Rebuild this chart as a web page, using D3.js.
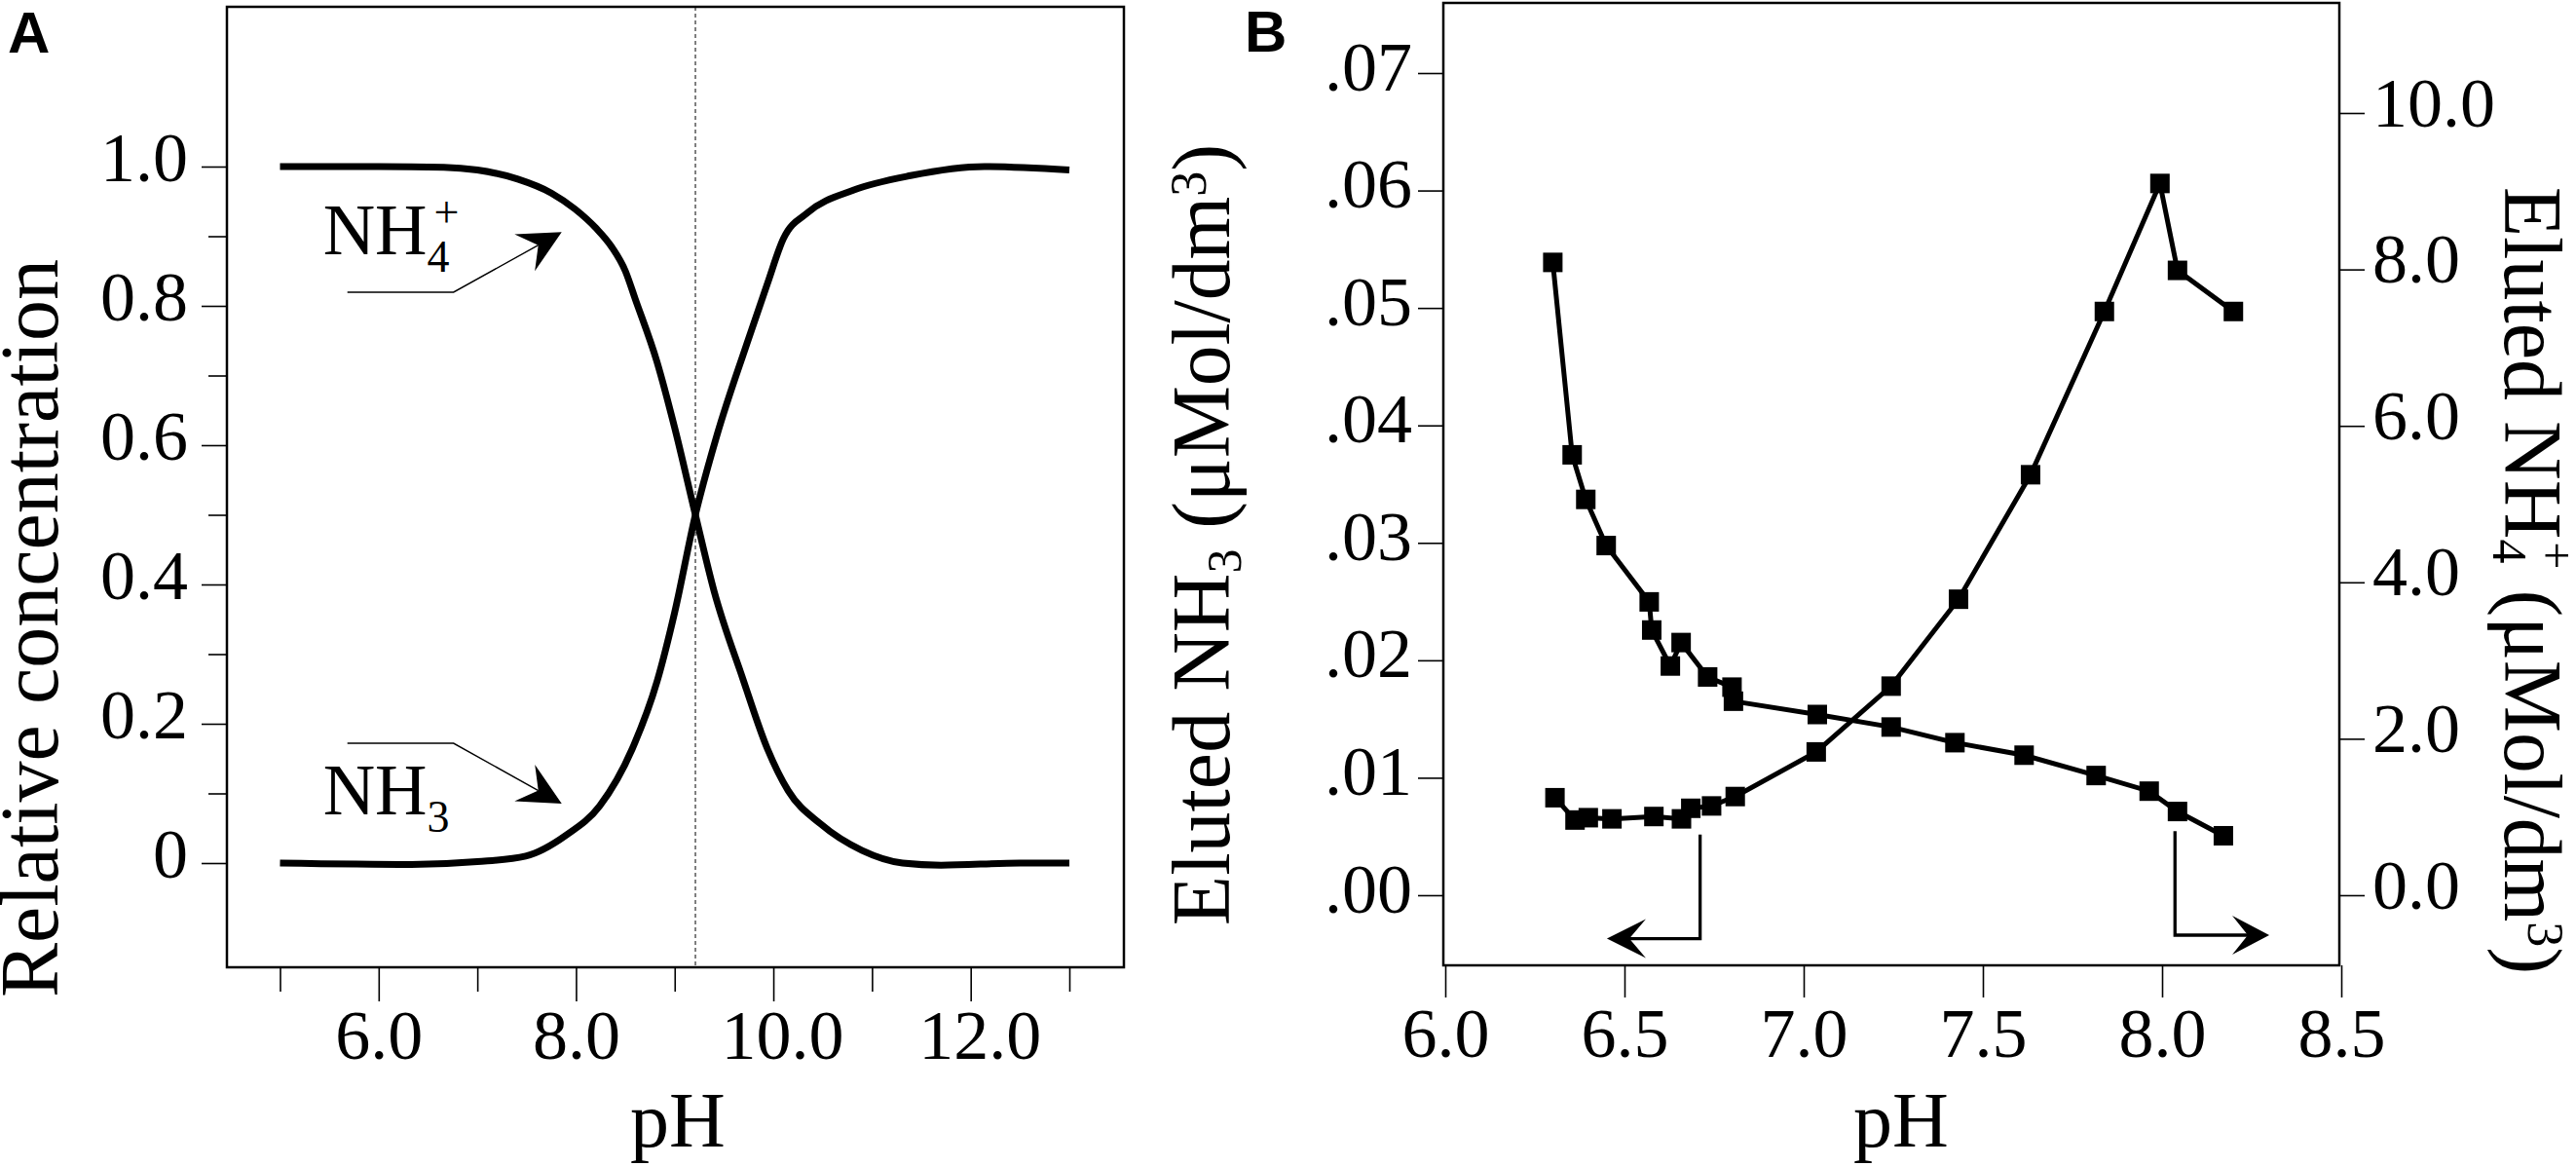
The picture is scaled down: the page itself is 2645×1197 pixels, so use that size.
<!DOCTYPE html>
<html><head><meta charset="utf-8">
<script src="https://cdn.jsdelivr.net/npm/d3@7"></script>
<style>
body{margin:0;background:#fff}
text{font-family:"Liberation Serif","Times New Roman",Times,serif;fill:#000}
</style>
</head><body>
<script>
// ================= DATA =================
// Panel A: relative concentration vs pH
const nh4pH   = [5.0, 6.0, 6.66, 7.0, 7.41, 7.75, 7.99, 8.2, 8.36, 8.5, 8.6, 8.82, 9.0, 9.21, 9.40, 9.69, 9.94, 10.15, 10.48, 10.9, 11.31, 11.7, 12.5, 13.0];
const nh4Frac = [1.0, 1.0, 0.999, 0.995, 0.982, 0.962, 0.939, 0.912, 0.885, 0.85, 0.81, 0.72, 0.625, 0.5, 0.39, 0.265, 0.164, 0.104, 0.056, 0.018, 0.0, -0.003, 0.0, 0.0];
const nh3pH   = [5.0, 6.33, 7.0, 7.49, 7.9, 8.24, 8.57, 8.82, 9.0, 9.21, 9.43, 9.73, 9.94, 10.1, 10.35, 10.81, 11.39, 12.14, 13.0];
const nh3Frac = [0.0, -0.002, 0.002, 0.01, 0.04, 0.082, 0.164, 0.26, 0.36, 0.5, 0.615, 0.745, 0.832, 0.896, 0.934, 0.966, 0.987, 1.0, 0.995];
const pKa = 9.21;

// Panel B: eluted NH3 (left axis) and NH4+ (right axis) vs pH
const bNH3pH  = [6.306, 6.362, 6.399, 6.465, 6.582, 6.659, 6.685, 6.743, 6.809, 7.035, 7.244, 7.432, 7.633, 7.839, 7.994, 8.043, 8.199];
const bNH3    = [0.0083, 0.0064, 0.0066, 0.0065, 0.0067, 0.0065, 0.0074, 0.0076, 0.0084, 0.0122, 0.0178, 0.0252, 0.0358, 0.0497, 0.0606, 0.0532, 0.0497];
const bNH4pH  = [6.300, 6.354, 6.392, 6.449, 6.569, 6.576, 6.628, 6.658, 6.732, 6.800, 6.804, 7.038, 7.244, 7.422, 7.615, 7.816, 7.964, 8.043, 8.171];
const bNH4    = [8.09, 5.63, 5.06, 4.47, 3.75, 3.39, 2.93, 3.23, 2.79, 2.66, 2.48, 2.31, 2.15, 1.95, 1.79, 1.53, 1.33, 1.07, 0.76];

// Tick values / labels
const aXTicks = [5, 6, 7, 8, 9, 10, 11, 12, 13];
const aXLabels = {6: "6.0", 8: "8.0", 10: "10.0", 12: "12.0"};
const aYTicks = d3.range(0, 11).map(i => i / 10);
const aYLabels = {0: "0", 2: "0.2", 4: "0.4", 6: "0.6", 8: "0.8", 10: "1.0"};
const bXTicks = [6.0, 6.5, 7.0, 7.5, 8.0, 8.5];
const bLeftTicks = [0, 0.01, 0.02, 0.03, 0.04, 0.05, 0.06, 0.07];
const bRightTicks = [0, 2, 4, 6, 8, 10];

// Annotation anchor points (data units)
const nh4Arrow = [[5.683, 0.8196], [6.759, 0.8196], [7.855, 0.9059]];
const nh3Arrow = [[5.683, 0.172], [6.759, 0.172], [7.855, 0.0853]];
const nh4LabelPos = [5.436, 0.874];
const nh3LabelPos = [5.436, 0.070];
const leftArrowB  = [[6.711, 0.00517], [6.711, -0.0037], [6.451, -0.0037]];
const rightArrowB = [[8.036, 0.00545], [8.036, -0.0034], [8.299, -0.0034]];

// ================= Times-like advance widths (em) =================
const TW = {'0':.5,'1':.5,'2':.5,'3':.5,'4':.5,'5':.5,'6':.5,'7':.5,'8':.5,'9':.5,'.':.25,
  'p':.5,'H':.722,'N':.722,'R':.667,'e':.444,'l':.278,'a':.444,'t':.278,'i':.278,'v':.5,' ':.25,
  'c':.444,'o':.5,'n':.5,'r':.333,'E':.611,'u':.5,'d':.5,'(':.333,')':.333,'μ':.5,'M':.889,
  '/':.278,'m':.778,'+':.564};
const timesW = s => { let w = 0; for (const c of s) w += (TW[c] ?? 0.5); return w; };

const W = 2645, H = 1197;
const svg = d3.select("body").append("svg").attr("width", W).attr("height", H)
  .style("display", "block");
svg.append("rect").attr("width", W).attr("height", H).attr("fill", "#fff");

function setFS(sel, fs) { return sel.attr("data-fs", fs).attr("font-size", fs); }

function lockWidth(node) {
  const baseFS = +node.getAttribute("data-fs");
  const spans = node.querySelectorAll("tspan");
  const apply = (el, fs) => {
    const t = el.textContent;
    if (!t) return;
    el.setAttribute("textLength", (fs * timesW(t)).toFixed(2));
    el.setAttribute("lengthAdjust", "spacingAndGlyphs");
  };
  if (spans.length) spans.forEach(sp => apply(sp, +(sp.getAttribute("data-fs") || baseFS)));
  else apply(node, baseFS);
}

function arrow(g, pts, o) {
  const [tx, ty] = pts[pts.length - 1];
  const [px, py] = pts[pts.length - 2];
  const L = Math.hypot(tx - px, ty - py);
  const ux = (tx - px) / L, uy = (ty - py) / L, nx = -uy, ny = ux;
  const notch = [tx - o.notch * ux, ty - o.notch * uy];
  g.append("path").attr("d", d3.line()(pts.slice(0, -1).concat([notch])))
    .attr("fill", "none").attr("stroke", "#000").attr("stroke-width", o.w);
  const head = [[tx, ty],
    [tx - o.len * ux + o.half * nx, ty - o.len * uy + o.half * ny],
    notch,
    [tx - o.len * ux - o.half * nx, ty - o.len * uy - o.half * ny]];
  g.append("path").attr("d", d3.line()(head) + "Z").attr("fill", "#000");
}

function styleAxis(g, fs) {
  g.select(".domain").remove();
  g.selectAll(".tick line").attr("stroke", "#000").attr("stroke-width", 1.6);
  const t = g.selectAll(".tick text")
    .attr("font-family", '"Liberation Serif","Times New Roman",Times,serif').attr("fill", "#000");
  setFS(t, fs);
}

// ---------- Panel A ----------
const A = {l: 233, r: 1154, t: 7, b: 993};
const xA = d3.scaleLinear().domain([5, 13]).range([287.5, 1098]);
const yA = d3.scaleLinear().domain([0, 1]).range([886, 171]);
const gA = svg.append("g");

gA.append("line").attr("x1", xA(pKa)).attr("x2", xA(pKa)).attr("y1", A.t).attr("y2", A.b)
  .attr("stroke", "#000").attr("stroke-width", 1).attr("stroke-dasharray", "4,3");

const lineA = d3.line().x(d => xA(d[0])).y(d => yA(d[1])).curve(d3.curveMonotoneX);
gA.append("path").attr("d", lineA(nh4pH.map((p, i) => [p, nh4Frac[i]])))
  .attr("fill", "none").attr("stroke", "#000").attr("stroke-width", 7).attr("stroke-linejoin", "round");
gA.append("path").attr("d", lineA(nh3pH.map((p, i) => [p, nh3Frac[i]])))
  .attr("fill", "none").attr("stroke", "#000").attr("stroke-width", 7).attr("stroke-linejoin", "round");

gA.append("rect").attr("x", A.l).attr("y", A.t).attr("width", A.r - A.l).attr("height", A.b - A.t)
  .attr("fill", "none").attr("stroke", "#000").attr("stroke-width", 2.5);

const yAxA = gA.append("g").attr("transform", `translate(${A.l},0)`)
  .call(d3.axisLeft(yA).tickValues(aYTicks).tickSize(26).tickPadding(14)
    .tickFormat(d => aYLabels[Math.round(d * 10)] || ""));
styleAxis(yAxA, 72);
yAxA.selectAll(".tick").filter(d => Math.round(d * 10) % 2 === 1).select("line").attr("x2", -19);
yAxA.selectAll(".tick text").attr("dy", 14);

const xAxA = gA.append("g").attr("transform", `translate(0,${A.b})`)
  .call(d3.axisBottom(xA).tickValues(aXTicks).tickSize(35)
    .tickFormat(d => aXLabels[d] || ""));
styleAxis(xAxA, 72);
xAxA.selectAll(".tick").filter(d => d % 2 === 1).select("line").attr("y2", 25);
xAxA.selectAll(".tick text").attr("y", 94).attr("dy", 0).attr("dx", d => d >= 10 ? 9 : 0);

setFS(gA.append("g").attr("transform", "translate(59,645) rotate(-90)")
  .append("text").attr("text-anchor", "middle"), 84).text("Relative concentration");
setFS(gA.append("text").attr("x", 696).attr("y", 1177).attr("text-anchor", "middle"), 80).text("pH");

const pA = d => [xA(d[0]), yA(d[1])];
arrow(gA, nh4Arrow.map(pA), {len: 43.5, half: 21.5, notch: 27.5, w: 1.4});
arrow(gA, nh3Arrow.map(pA), {len: 43.5, half: 21.5, notch: 27.5, w: 1.4});
const t4 = setFS(gA.append("text").attr("x", xA(nh4LabelPos[0])).attr("y", yA(nh4LabelPos[1])), 74);
setFS(t4.append("tspan"), 74).text("NH");
setFS(t4.append("tspan"), 46).attr("dy", 18).text("4");
setFS(t4.append("tspan"), 46).attr("dx", -16).attr("dy", -46).text("+");
const t3 = setFS(gA.append("text").attr("x", xA(nh3LabelPos[0])).attr("y", yA(nh3LabelPos[1])), 74);
setFS(t3.append("tspan"), 74).text("NH");
setFS(t3.append("tspan"), 46).attr("dy", 18).text("3");

svg.append("text").attr("x", 8).attr("y", 54).attr("font-size", 60).attr("font-weight", "bold")
  .style("font-family", '"Liberation Sans", Arial, sans-serif').text("A");

// ---------- Panel B ----------
const B = {l: 1482, r: 2402, t: 3, b: 991};
const xB = d3.scaleLinear().domain([6, 8.5]).range([1484, 2404]);
const yBL = d3.scaleLinear().domain([0, 0.07]).range([919, 75]);
const yBR = d3.scaleLinear().domain([0, 10]).range([919, 116]);
const gB = svg.append("g");

gB.append("rect").attr("x", B.l).attr("y", B.t).attr("width", B.r - B.l).attr("height", B.b - B.t)
  .attr("fill", "none").attr("stroke", "#000").attr("stroke-width", 2.5);

const lineBL = d3.line().x(d => xB(d[0])).y(d => yBL(d[1]));
const lineBR = d3.line().x(d => xB(d[0])).y(d => yBR(d[1]));
const dNH3 = bNH3pH.map((p, i) => [p, bNH3[i]]);
const dNH4 = bNH4pH.map((p, i) => [p, bNH4[i]]);
gB.append("path").attr("d", lineBL(dNH3)).attr("fill", "none").attr("stroke", "#000")
  .attr("stroke-width", 5).attr("stroke-linejoin", "miter");
gB.append("path").attr("d", lineBR(dNH4)).attr("fill", "none").attr("stroke", "#000")
  .attr("stroke-width", 5).attr("stroke-linejoin", "miter");
const ms = 20;
gB.selectAll("rect.m3").data(dNH3).join("rect").attr("class", "m3")
  .attr("x", d => xB(d[0]) - ms / 2).attr("y", d => yBL(d[1]) - ms / 2)
  .attr("width", ms).attr("height", ms).attr("fill", "#000");
gB.selectAll("rect.m4").data(dNH4).join("rect").attr("class", "m4")
  .attr("x", d => xB(d[0]) - ms / 2).attr("y", d => yBR(d[1]) - ms / 2)
  .attr("width", ms).attr("height", ms).attr("fill", "#000");

const pBL = d => [xB(d[0]), yBL(d[1])];
arrow(gB, leftArrowB.map(pBL), {len: 40, half: 20, notch: 23, w: 3.3});
arrow(gB, rightArrowB.map(pBL), {len: 38, half: 20, notch: 22, w: 3.3});

const fmtL = d => d3.format(".2f")(d).replace(/^0/, "");
const yAxBL = gB.append("g").attr("transform", `translate(${B.l},0)`)
  .call(d3.axisLeft(yBL).tickValues(bLeftTicks).tickSize(26).tickPadding(6).tickFormat(fmtL));
styleAxis(yAxBL, 72);
yAxBL.selectAll(".tick text").attr("dy", 17);

const yAxBR = gB.append("g").attr("transform", `translate(${B.r},0)`)
  .call(d3.axisRight(yBR).tickValues(bRightTicks).tickSize(26).tickPadding(8).tickFormat(d3.format(".1f")));
styleAxis(yAxBR, 72);
yAxBR.selectAll(".tick text").attr("dy", 13);

const xAxB = gB.append("g").attr("transform", `translate(0,${B.b})`)
  .call(d3.axisBottom(xB).tickValues(bXTicks).tickSize(33).tickFormat(d3.format(".1f")));
styleAxis(xAxB, 72);
xAxB.selectAll(".tick text").attr("y", 94).attr("dy", 0);

setFS(gB.append("text").attr("x", 1952).attr("y", 1177).attr("text-anchor", "middle"), 80).text("pH");

const tl = setFS(gB.append("g").attr("transform", "translate(1262,549) rotate(-90)")
  .append("text").attr("text-anchor", "middle"), 84);
setFS(tl.append("tspan"), 84).text("Eluted NH");
setFS(tl.append("tspan"), 50).attr("dy", 12).text("3");
setFS(tl.append("tspan"), 84).attr("dy", -12).text(" (μMol/dm");
setFS(tl.append("tspan"), 52).attr("dy", -24).text("3");
setFS(tl.append("tspan"), 84).attr("dy", 24).text(")");

const tr = setFS(gB.append("g").attr("transform", "translate(2572,596) rotate(90)")
  .append("text").attr("text-anchor", "middle"), 84);
setFS(tr.append("tspan"), 84).text("Eluted NH");
setFS(tr.append("tspan"), 50).attr("dy", 12).text("4");
setFS(tr.append("tspan"), 50).attr("dx", -22).attr("dy", -48).text("+");
setFS(tr.append("tspan"), 84).attr("dy", 36).text(" (μMol/dm");
setFS(tr.append("tspan"), 52).attr("dy", -24).text("3");
setFS(tr.append("tspan"), 84).attr("dy", 24).text(")");

svg.append("text").attr("x", 1278).attr("y", 53).attr("font-size", 60).attr("font-weight", "bold")
  .style("font-family", '"Liberation Sans", Arial, sans-serif').text("B");

svg.selectAll("text[data-fs]").each(function () { lockWidth(this); });
</script>
</body></html>
